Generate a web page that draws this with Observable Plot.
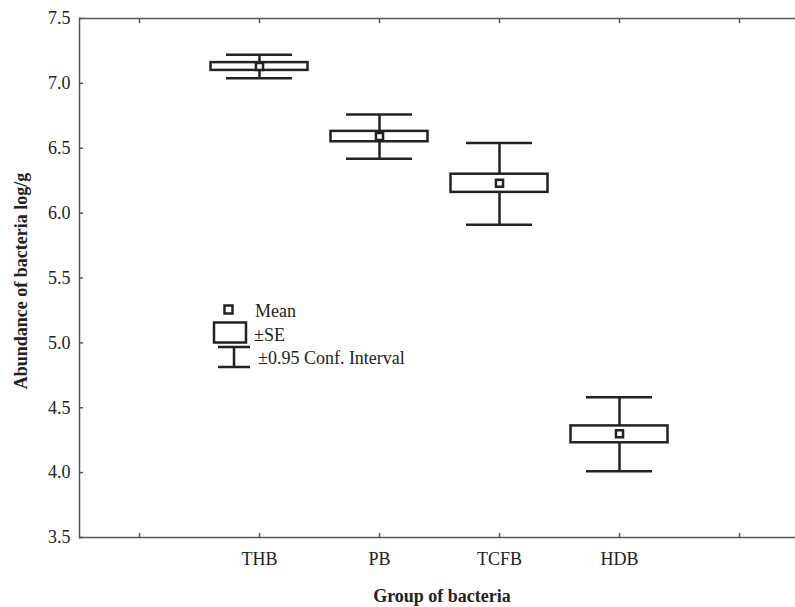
<!DOCTYPE html>
<html>
<head>
<meta charset="utf-8">
<script src="https://cdn.jsdelivr.net/npm/d3@7"></script>
<script src="https://cdn.jsdelivr.net/npm/@observablehq/plot@0.6"></script>
<style>
  html, body { margin: 0; padding: 0; background: #fff; overflow: hidden; }
  #chart { width: 795px; height: 607px; }
</style>
</head>
<body>
<div id="chart"></div>
<script>
// ---- data ----
const groups = ["THB", "PB", "TCFB", "HDB"];
const means  = [7.13, 6.59, 6.23, 4.30];
const seLow  = [7.10, 6.55, 6.16, 4.23];
const seHigh = [7.16, 6.63, 6.30, 4.36];
const ciLow  = [7.04, 6.42, 5.91, 4.01];
const ciHigh = [7.22, 6.76, 6.54, 4.58];
const xSlots = ["", "THB", "PB", "TCFB", "HDB", " "];
const yTicks = [3.5, 4.0, 4.5, 5.0, 5.5, 6.0, 6.5, 7.0, 7.5];
const xTitle = "Group of bacteria";
const yTitle = "Abundance of bacteria log/g";
const legendLabels = ["Mean", "±SE", "±0.95 Conf. Interval"];

const data = groups.map((g, i) => ({
  group: g, mean: means[i], seLow: seLow[i], seHigh: seHigh[i], ciLow: ciLow[i], ciHigh: ciHigh[i]
}));

const ink = "#222";
const axisInk = "#555";
const fsize = "18px";

const chart = Plot.plot({
  width: 795,
  height: 607,
  marginLeft: 79,
  marginRight: 0,
  marginTop: 18,
  marginBottom: 70,
  style: { fontFamily: "'Liberation Serif', 'Times New Roman', serif", fontSize: fsize, color: ink, background: "#fff" },
  x: { type: "band", domain: xSlots, range: [79, 799], padding: 0, label: null },
  y: { domain: [3.5, 7.5], label: null },
  marks: [
    // frame lines
    Plot.ruleY([3.5, 7.5], { stroke: axisInk, strokeWidth: 1.5 }),
    Plot.frame({ anchor: "left", stroke: axisInk, strokeWidth: 1.5 }),
    // x ticks (inside) bottom & top
    Plot.axisX({ anchor: "bottom", ticks: xSlots, tickSize: 4, dy: -4, tickFormat: () => "", stroke: axisInk, strokeWidth: 1.5, label: null }),
    Plot.axisX({ anchor: "top", ticks: xSlots, tickSize: 4, dy: 4, tickFormat: () => "", stroke: axisInk, strokeWidth: 1.5, label: null }),
    Plot.axisX({ anchor: "bottom", ticks: xSlots, tickSize: 0, tickPadding: 15, label: null, fill: ink }),
    // y ticks (inside) and labels
    Plot.axisY({ anchor: "left", ticks: yTicks, tickSize: 4, dx: 4, tickFormat: () => "", stroke: axisInk, strokeWidth: 1.5, label: null }),
    Plot.axisY({ anchor: "left", ticks: yTicks, tickSize: 0, tickPadding: 9, tickFormat: d3.format(".1f"), label: null, fill: ink }),
    // whiskers
    Plot.ruleX(data, { x: "group", y1: "ciLow", y2: "ciHigh", stroke: ink, strokeWidth: 2.5 }),
    Plot.tickY(data, { x: "group", y: "ciLow", inset: 27, stroke: ink, strokeWidth: 2.5 }),
    Plot.tickY(data, { x: "group", y: "ciHigh", inset: 27, stroke: ink, strokeWidth: 2.5 }),
    // SE boxes
    Plot.barY(data, { x: "group", y1: "seLow", y2: "seHigh", insetLeft: 11.5, insetRight: 11.5, fill: "#fff", stroke: ink, strokeWidth: 2.5 }),
    // means
    Plot.dot(data, { x: "group", y: "mean", symbol: "square", r: 4, fill: "#fff", stroke: ink, strokeWidth: 2.5 })
  ]
});

const svg = d3.select(chart);
const font = "'Liberation Serif', 'Times New Roman', serif";

// axis titles
svg.append("text")
  .attr("x", 442).attr("y", 602)
  .attr("text-anchor", "middle")
  .attr("font-family", font).attr("font-size", fsize).attr("font-weight", "bold")
  .attr("fill", ink)
  .text(xTitle);

svg.append("text")
  .attr("transform", "translate(27,281) rotate(-90)")
  .attr("text-anchor", "middle")
  .attr("font-family", font).attr("font-size", fsize).attr("font-weight", "bold")
  .attr("fill", ink)
  .text(yTitle);

// legend
const lg = svg.append("g").attr("fill", "none").attr("stroke", ink).attr("stroke-width", 2.5);
lg.append("rect").attr("x", 224.5).attr("y", 305.5).attr("width", 8).attr("height", 8).attr("fill", "#fff");
lg.append("rect").attr("x", 214).attr("y", 322.5).attr("width", 32).attr("height", 20).attr("fill", "#fff");
lg.append("line").attr("x1", 218).attr("x2", 250).attr("y1", 347).attr("y2", 347);
lg.append("line").attr("x1", 234).attr("x2", 234).attr("y1", 347).attr("y2", 367);
lg.append("line").attr("x1", 218).attr("x2", 250).attr("y1", 367).attr("y2", 367);

const lt = svg.append("g").attr("font-family", font).attr("font-size", fsize).attr("fill", ink).attr("text-anchor", "start");
lt.append("text").attr("x", 255).attr("y", 317).text(legendLabels[0]);
lt.append("text").attr("x", 254).attr("y", 341).text(legendLabels[1]);
lt.append("text").attr("x", 258).attr("y", 364).text(legendLabels[2]);

document.getElementById("chart").appendChild(chart);
</script>
</body>
</html>
